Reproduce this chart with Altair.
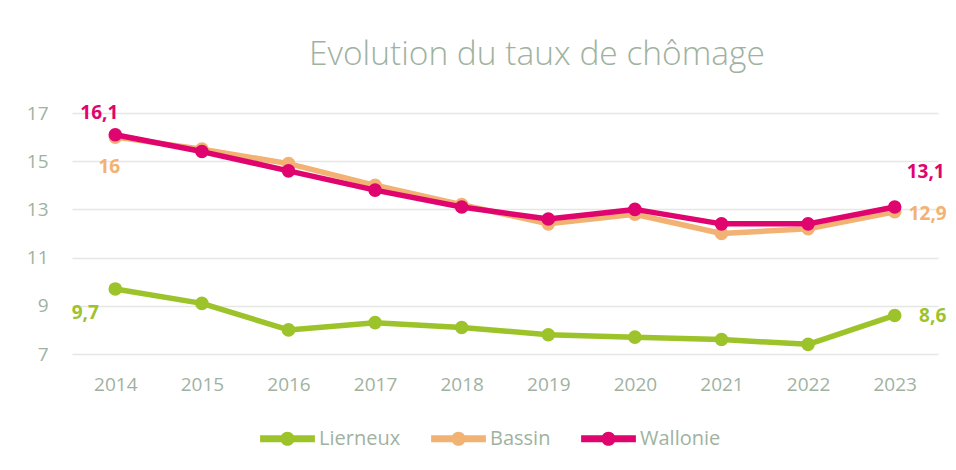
import altair as alt
import pandas as pd

years = ["2014", "2015", "2016", "2017", "2018", "2019", "2020", "2021", "2022", "2023"]
series = ["Lierneux", "Bassin", "Wallonie"]
lierneux = [9.7, 9.1, 8.0, 8.3, 8.1, 7.8, 7.7, 7.6, 7.4, 8.6]
bassin = [16.0, 15.5, 14.9, 14.0, 13.2, 12.4, 12.8, 12.0, 12.2, 12.9]
wallonie = [16.1, 15.4, 14.6, 13.8, 13.1, 12.6, 13.0, 12.4, 12.4, 13.1]
colors = ["#9DC32A", "#F2B273", "#E0046E"]
y_ticks = [7, 9, 11, 13, 15, 17]

values = {"Lierneux": lierneux, "Bassin": bassin, "Wallonie": wallonie}
rows = []
for s in series:
    for y, v in zip(years, values[s]):
        rows.append({"year": y, "series": s, "value": v})
df = pd.DataFrame(rows)

TXT = "#9FB29F"
FONT = "Open Sans"

legend_path = ("M-1,-0.13 L1,-0.13 L1,0.13 L-1,0.13 Z "
               "M-0.26,0 A0.26,0.26 0 1,1 0.26,0 A0.26,0.26 0 1,1 -0.26,0 Z")

x_enc = alt.X("year:O", scale=alt.Scale(type="point", padding=0.5),
              axis=alt.Axis(title=None, labelAngle=0, ticks=False, domain=False, grid=False,
                            labelPadding=21, labelFontSize=19, labelColor=TXT, labelFont=FONT))
y_enc = alt.Y("value:Q", scale=alt.Scale(domain=[7, 17], nice=False, zero=False),
              axis=alt.Axis(title=None, values=y_ticks, ticks=False, domain=False, grid=True,
                            gridColor="#E4E7E4", gridWidth=1.5, labelPadding=24,
                            labelFontSize=19, labelColor=TXT, labelFont=FONT))
color_enc = alt.Color("series:N",
                      scale=alt.Scale(domain=series, range=colors),
                      legend=alt.Legend(title=None, orient="none", direction="horizontal",
                                        legendX=188, legendY=298,
                                        symbolType=legend_path, symbolSize=3000,
                                        symbolStrokeWidth=0, labelFontSize=20,
                                        labelColor=TXT, labelFont=FONT, labelOffset=4,
                                        columnPadding=30))

base = alt.Chart(df)
layers = []
for s in series:
    sub = base.transform_filter(alt.datum.series == s)
    layers.append(sub.mark_line(strokeWidth=5.5, strokeCap="round", strokeJoin="round")
                  .encode(x=x_enc, y=y_enc, color=color_enc))
    layers.append(sub.mark_point(filled=True, size=185, opacity=1)
                  .encode(x=x_enc, y=y_enc, color=color_enc))

label_offsets = [
    ("Lierneux", "2014", -30, 24),
    ("Bassin", "2014", -6, 30),
    ("Wallonie", "2014", -16, -22),
    ("Lierneux", "2023", 38, 1),
    ("Bassin", "2023", 33, 2),
    ("Wallonie", "2023", 31, -35),
]
for s, yr, dx, dy in label_offsets:
    c = colors[series.index(s)]
    layers.append(
        base.transform_filter((alt.datum.series == s) & (alt.datum.year == yr))
        .transform_calculate(lbl="replace(format(datum.value, '.1~f'), '.', ',')")
        .mark_text(dx=dx, dy=dy, fontSize=19, fontWeight="bold", font=FONT, color=c,
                   align="center", baseline="middle")
        .encode(x=x_enc, y=y_enc, text="lbl:N")
    )

chart = alt.layer(*layers).properties(
    width=866, height=241,
    title=alt.TitleParams("Evolution du taux de chômage", fontSize=33.5, font=FONT,
                          fontWeight=300, color=TXT, anchor="middle", dx=32, offset=31),
    autosize=alt.AutoSizeParams(type="none"),
    padding={"left": 64, "top": 105, "right": 10, "bottom": 108},
).configure_view(stroke=None)

chart.save("out.html", embed_options={"renderer": "svg", "actions": False})
